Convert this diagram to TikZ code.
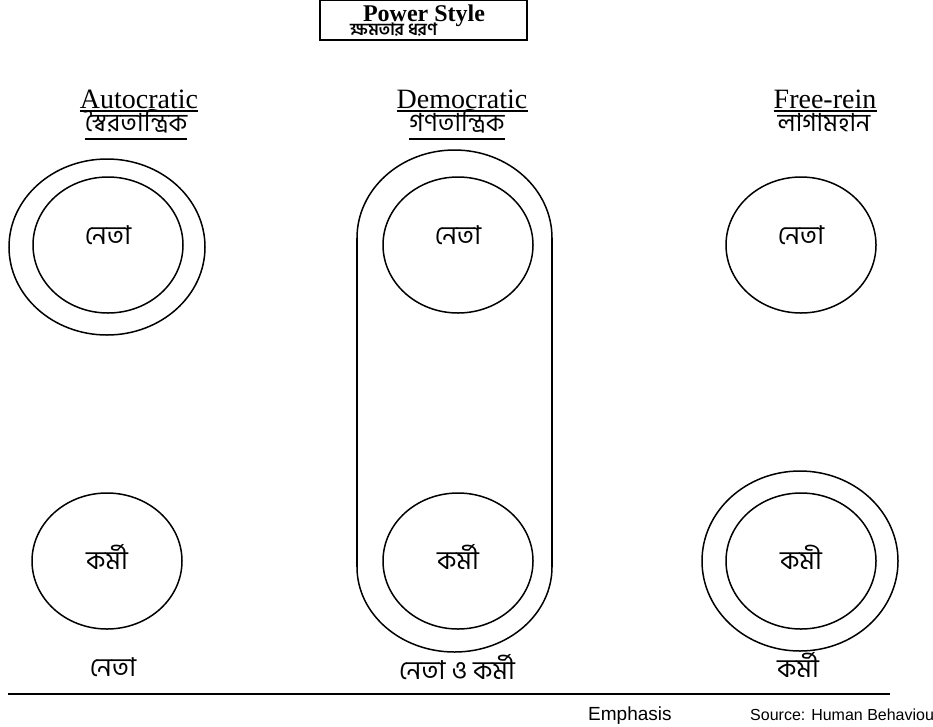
\documentclass[tikz,border=0pt]{standalone}
\usepackage{fontspec}
\setmainfont{Liberation Serif}
\newfontfamily\bn[Script=Bengali]{Hind Siliguri}
\newfontfamily\arialfont{Liberation Sans}
\usetikzlibrary{shapes.geometric}

\tikzset{
  ink/.style={line width=1.5pt, black},
  inner/.style={ellipse, ink, draw, minimum width=150pt, minimum height=136pt, inner sep=0pt},
  outer/.style={ellipse, ink, draw, minimum width=196pt, minimum height=176pt, inner sep=0pt},
  head/.style={font=\fontsize{28}{30}\selectfont, inner sep=0pt, anchor=base},
  bnhead/.style={font=\bn\fontsize{25}{27}\selectfont, inner sep=0pt, anchor=base},
  bnlabel/.style={font=\bn\fontsize{26}{28}\selectfont, inner sep=0pt},
  uline/.style={line width=1.2pt},
  note/.style={font=\arialfont\fontsize{19}{21}\selectfont, inner sep=0pt, anchor=base west}
}

\begin{document}
\begin{tikzpicture}[x=1pt, y=1pt]
\useasboundingbox[clip] (0,0) rectangle (933,-726);

% title box
\node (titlebox) [draw, line width=1.2pt, minimum width=207pt, minimum height=40pt, inner sep=0pt] at (423.5,-20) {};
\node (title) [font=\bfseries\fontsize{24}{26}\selectfont, inner sep=0pt, anchor=base] at (424,-21) {Power Style};
\node (titlebn) [font=\bn\bfseries\fontsize{17}{19}\selectfont, inner sep=0pt, anchor=base west] at (350,-35) {ক্ষমতার ধরণ};

% column headings
\node (hA) [head] at (139,-108) {Autocratic};
\node (hAbn) [bnhead] at (136,-131) {স্বৈরতান্ত্রিক};
\draw[uline] ([yshift=-3pt]hA.base west) -- ([yshift=-3pt]hA.base east);
\draw[uline] ([yshift=-8pt]hAbn.base west) -- ([yshift=-8pt]hAbn.base east);

\node (hD) [head] at (462,-108) {Democratic};
\node (hDbn) [bnhead] at (457,-131) {গণতান্ত্রিক};
\draw[uline] ([yshift=-3pt]hD.base west) -- ([yshift=-3pt]hD.base east);
\draw[uline] ([yshift=-8pt]hDbn.base west) -- ([yshift=-8pt]hDbn.base east);

\node (hF) [head] at (825,-108) {Free-rein};
\node (hFbn) [bnhead] at (824,-131) {লাগামহান};
\draw[uline] ([yshift=-3pt]hF.base west) -- ([yshift=-3pt]hF.base east);

% autocratic: leader emphasised
\node (aOut) [outer] at (107,-247) {};
\node (aLead) [inner] at (108,-245) {};
\node (aLeadT) [bnlabel] at ([yshift=10pt]aLead.center) {নেতা};
\node (aWork) [inner] at (107,-561) {};
\node (aWorkT) [bnlabel] at ([yshift=4pt]aWork.center) {কর্মী};

% democratic: leader and workers together
\node (dLead) [inner] at (458,-245) {};
\node (dLeadT) [bnlabel] at ([yshift=10pt]dLead.center) {নেতা};
\node (dWork) [inner] at (458,-561) {};
\node (dWorkT) [bnlabel] at ([yshift=4pt]dWork.center) {কর্মী};
\coordinate (capTL) at (357,-238);
\coordinate (capTR) at (552,-238);
\coordinate (capBL) at (357,-567);
\coordinate (capBR) at (552,-567);
\draw[ink] (capTL) arc[start angle=180, end angle=0, x radius=97.5pt, y radius=88pt];
\draw[ink] (capTL) -- (capBL);
\draw[ink] (capTR) -- (capBR);
\draw[ink] (capBL) arc[start angle=180, end angle=360, x radius=97.5pt, y radius=85pt];

% free-rein: workers emphasised
\node (fLead) [inner] at (801,-245) {};
\node (fLeadT) [bnlabel] at ([yshift=10pt]fLead.center) {নেতা};
\node (fOut) [outer, minimum height=180pt] at (800,-561) {};
\node (fWork) [inner] at (801,-561) {};
\node (fWorkT) [bnlabel] at ([yshift=4pt]fWork.center) {কমী};

% emphasis row
\node (eA) [bnlabel] at (113,-667) {নেতা};
\node (eD) [bnlabel] at (457,-667) {নেতা ও  কর্মী};
\node (eF) [bnlabel] at (798,-665) {কর্মী};

\coordinate (ruleL) at (8,-694);
\coordinate (ruleR) at (890,-694);
\draw[line width=2pt] (ruleL) -- (ruleR);

\node (emph) [note] at (588,-720) {Emphasis};
\node (src) [note, font=\arialfont\fontsize{16}{18}\selectfont] at (750,-720) {Source: Human Behaviou};
\end{tikzpicture}
\end{document}
